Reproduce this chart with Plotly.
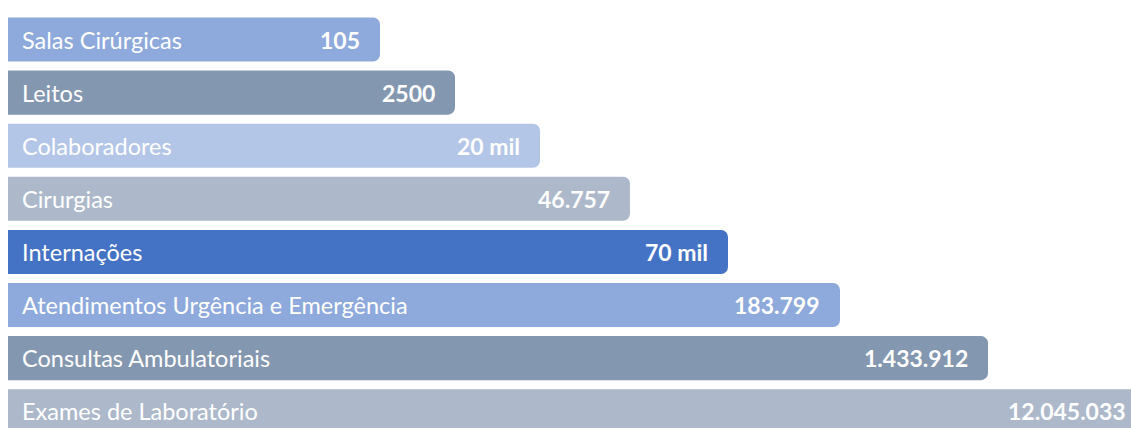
import plotly.graph_objects as go

categories = [
    "Salas Cirúrgicas",
    "Leitos",
    "Colaboradores",
    "Cirurgias",
    "Internações",
    "Atendimentos Urgência e Emergência",
    "Consultas Ambulatoriais",
    "Exames de Laboratório",
]
value_labels = ["105", "2500", "20 mil", "46.757", "70 mil", "183.799", "1.433.912", "12.045.033"]
# visual bar lengths as drawn in the infographic (arbitrary units)
bar_length = [372, 447, 532, 622, 720, 832, 980, 1138]
bar_colors = ["#8EA9DB", "#8497B0", "#B4C6E7", "#ADB9CA", "#4472C4", "#8EA9DB", "#8497B0", "#ADB9CA"]

y_pos = list(range(len(categories)))

fig = go.Figure()
fig.add_trace(go.Bar(
    x=bar_length,
    y=y_pos,
    orientation="h",
    marker=dict(color=bar_colors, line=dict(width=0)),
    width=0.83,
    hoverinfo="skip",
))

FONT = "Lato"
VALUE_INSET = 18
annotations = []
for i, (cat, val, L) in enumerate(zip(categories, value_labels, bar_length)):
    annotations.append(dict(
        x=0, y=i, xref="x", yref="y", text=cat, showarrow=False,
        xanchor="left", yanchor="middle", xshift=12,
        font=dict(family=FONT, size=23.5, color="white"),
    ))
    annotations.append(dict(
        x=L - VALUE_INSET, y=i, xref="x", yref="y", text="<b>" + val + "</b>", showarrow=False,
        xanchor="right", yanchor="middle",
        font=dict(family=FONT, size=23, color="white"),
    ))

fig.update_layout(
    width=1131, height=428,
    margin=dict(l=8, r=0, t=0, b=0),
    paper_bgcolor="white", plot_bgcolor="white",
    barcornerradius=7,
    showlegend=False,
    annotations=annotations,
    xaxis=dict(range=[0, 1123], visible=False, fixedrange=True),
    yaxis=dict(range=[7.316, -0.744], visible=False, fixedrange=True),
)

fig.write_html("out.html", config={"displayModeBar": False})
